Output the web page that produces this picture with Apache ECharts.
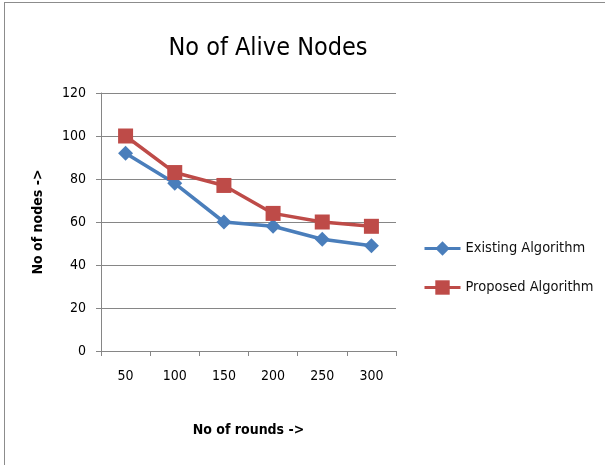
<!DOCTYPE html>
<html>
<head>
<meta charset="utf-8">
<script src="https://cdn.jsdelivr.net/npm/echarts@6/dist/echarts.min.js"></script>
<style>
  html, body { margin: 0; padding: 0; background: #fff; }
  #chart {
    position: absolute; left: 0; top: 0;
    width: 605px; height: 465px;
  }
  .frame {
    position: absolute; left: 4px; top: 2px;
    width: 610px; height: 470px;
    border-left: 1px solid #8c8c8c; border-top: 1px solid #8c8c8c;
    pointer-events: none;
  }
</style>
</head>
<body>
<div id="chart"></div>
<div class="frame"></div>
<script>
const rounds = ['50', '100', '150', '200', '250', '300']
const existing = [92, 78, 60, 58, 52, 49]
const proposed = [100, 83, 77, 64, 60, 58]

const font = '"DejaVu Sans Condensed", "Liberation Sans Narrow", sans-serif'

const chart = echarts.init(document.getElementById('chart'))
chart.setOption({
  animation: false,
  title: {
    text: 'No of Alive Nodes',
    left: 263, top: 31, textAlign: 'center',
    textStyle: { fontFamily: font, fontSize: 25, fontWeight: 'normal', color: '#000' }
  },
  legend: {
    orient: 'vertical',
    left: 418, top: 236,
    itemGap: 24,
    itemWidth: 36, itemHeight: 18,
    lineStyle: { width: 3 },
    textStyle: { fontFamily: font, fontSize: 14.5, color: '#111' },
    data: ['Existing Algorithm', 'Proposed Algorithm']
  },
  grid: { left: 101, right: 209, top: 93, bottom: 114 },
  xAxis: {
    type: 'category',
    data: rounds,
    boundaryGap: true,
    name: 'No of rounds ->',
    nameLocation: 'middle',
    nameGap: 72,
    nameTextStyle: { fontFamily: font, fontSize: 14, fontWeight: 'bold', color: '#000' },
    axisLine: { lineStyle: { color: '#868686' } },
    axisTick: { show: true, length: 5, lineStyle: { color: '#868686' } },
    axisLabel: { fontFamily: font, fontSize: 14, color: '#000', margin: 18 }
  },
  yAxis: {
    type: 'value',
    min: 0, max: 120, interval: 20,
    name: 'No of nodes ->',
    nameLocation: 'middle',
    nameGap: 56,
    nameRotate: 90,
    nameTextStyle: { fontFamily: font, fontSize: 14, fontWeight: 'bold', color: '#000' },
    axisLine: { show: true, lineStyle: { color: '#868686' } },
    axisTick: { show: true, length: 5, lineStyle: { color: '#868686' } },
    axisLabel: { fontFamily: font, fontSize: 14, color: '#000', margin: 15 },
    splitLine: { lineStyle: { color: '#868686' } }
  },
  series: [
    {
      name: 'Existing Algorithm',
      type: 'line',
      data: existing,
      symbol: 'diamond',
      symbolSize: 15,
      lineStyle: { color: '#4a7ebb', width: 3.5 },
      itemStyle: { color: '#4a7ebb' }
    },
    {
      name: 'Proposed Algorithm',
      type: 'line',
      data: proposed,
      symbol: 'rect',
      symbolSize: 15,
      lineStyle: { color: '#be4b48', width: 3.5 },
      itemStyle: { color: '#be4b48' }
    }
  ]
})
</script>
</body>
</html>
